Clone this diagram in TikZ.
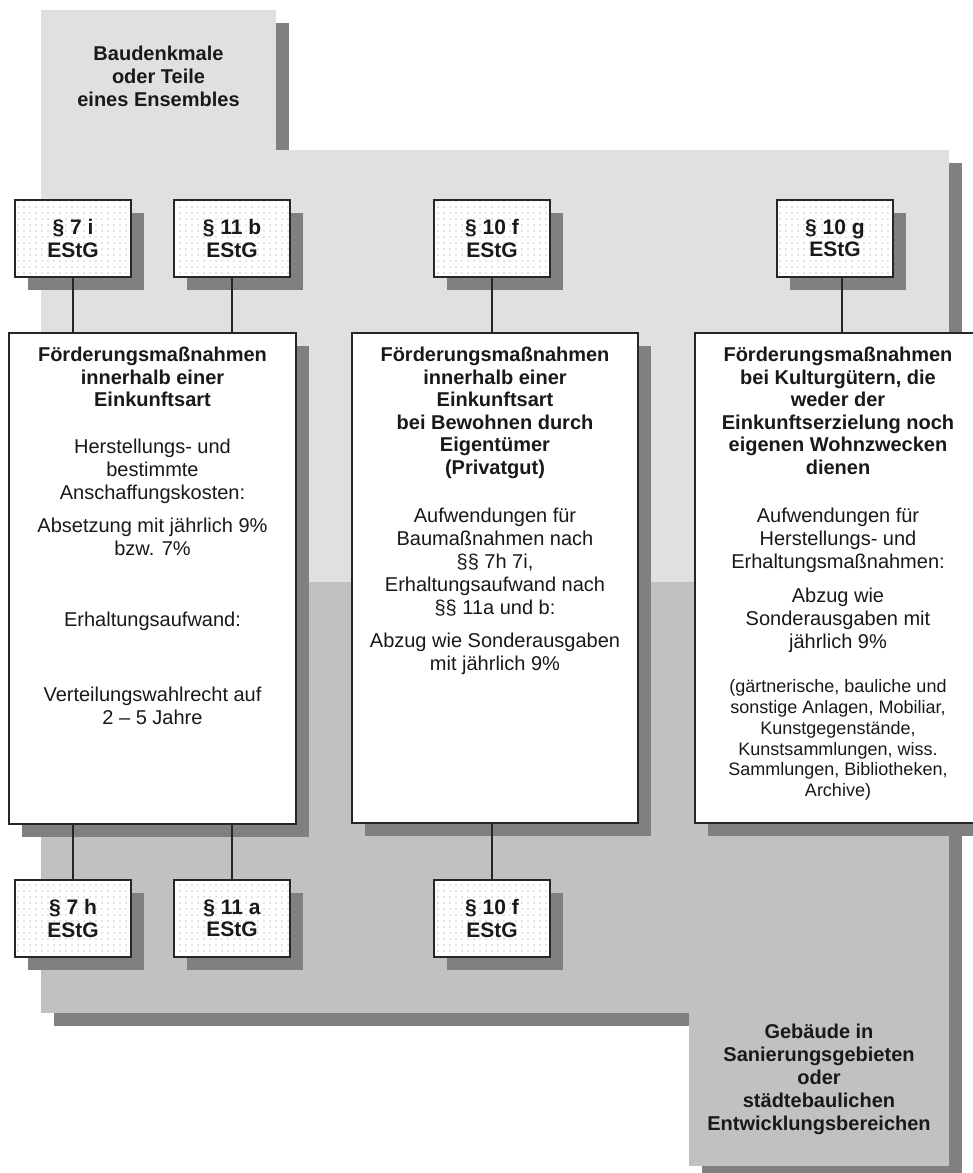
\documentclass[tikz,border=0pt]{standalone}
\usepackage{fontspec}
\setmainfont{Liberation Sans}
\usetikzlibrary{shadows,patterns.meta,calc}
\definecolor{bglight}{gray}{0.88}
\definecolor{bgmid}{gray}{0.755}
\definecolor{sh}{gray}{0.5}
\definecolor{linec}{gray}{0.15}
\definecolor{txt}{gray}{0.1}
\definecolor{dotc}{gray}{0.55}
\newcommand{\resetcenter}{\spaceskip=0pt\xspaceskip=0pt\centering}
\begin{document}
\begin{tikzpicture}[x=1pt,y=-1pt,
  shad/.style={drop shadow={shadow xshift=13pt,shadow yshift=-13pt,opacity=1,fill=sh}},
  pbox/.style={shad, preaction={fill=white}, draw=linec, line width=1.3pt,
    minimum width=116pt, minimum height=77pt, inner sep=0pt, align=center,
    font=\fontsize{21}{22.5}\selectfont\bfseries, text=txt,
    pattern={Dots[distance=6pt,radius=0.6pt]}, pattern color=dotc},
  mbox/.style={shad, draw=linec, line width=1.3pt, fill=white, inner sep=0pt},
  conn/.style={draw=linec, line width=1.3pt},
  btxt/.style={anchor=north, text width=280pt, inner sep=0pt, text=txt,
    font=\fontsize{20}{22.5}\selectfont},
  ctxt/.style={align=center, inner sep=0pt, text=txt, font=\fontsize{20}{23}\selectfont\bfseries},
]
\path[use as bounding box, clip] (0,0) rectangle (973,1173);

% background regions with shadows
\fill[sh] (54,23) rectangle (289,163);
\fill[sh] (54,163) rectangle (962,1026);
\fill[sh] (702,1026) rectangle (962,1179);
\fill[bglight] (41,10) rectangle (276,150);
\fill[bglight] (41,150) rectangle (949,582);
\fill[bgmid] (41,582) rectangle (949,1013);
\fill[bgmid] (689,1013) rectangle (949,1166);

\node[ctxt] (topt) at (158.5,75.9) {Baudenkmale\\oder Teile\\eines Ensembles};
\node[ctxt] (bott) at (819,1079.8) {Gebäude in\\Sanierungsgebieten\\oder\\städtebaulichen\\Entwicklungsbereichen};

% main boxes
\node[mbox, minimum width=287pt, minimum height=491pt] (L) at (152.5,578.5) {};
\node[mbox, minimum width=286pt, minimum height=490pt] (M) at (495,578) {};
\node[mbox, minimum width=286pt, minimum height=490pt] (R) at (838,578) {};

% paragraph boxes
\node[pbox] (a7i) at (73,238.5) {§ 7 i\\EStG};
\node[pbox] (b11) at (232,238.5) {§ 11 b\\EStG};
\node[pbox] (f10) at (492,238.5) {§ 10 f\\EStG};
\node[pbox] (g10) at (835,238.5) {§ 10 g\\EStG};
\node[pbox] (h7) at (73,918.5) {§ 7 h\\EStG};
\node[pbox] (a11) at (232,918.5) {§ 11 a\\EStG};
\node[pbox] (f10b) at (492,918.5) {§ 10 f\\EStG};

% connectors
\draw[conn] (a7i.south) -- (a7i.south |- L.north);
\draw[conn] (b11.south) -- (b11.south |- L.north);
\draw[conn] (f10.south) -- (f10.south |- M.north);
\coordinate (gtop) at ([xshift=7pt]g10.south);
\draw[conn] (gtop) -- (gtop |- R.north);
\draw[conn] (L.south -| h7.north) -- (h7.north);
\draw[conn] (L.south -| a11.north) -- (a11.north);
\draw[conn] (M.south -| f10b.north) -- (f10b.north);

% texts
\node[btxt] (Lt) at (152.5,347.3) {\resetcenter\fontsize{20}{22.5}\selectfont\bfseries
Förderungsmaßnahmen\\innerhalb einer\\Einkunftsart\par
\vspace{24pt}\fontsize{20}{23}\selectfont\mdseries
Herstellungs- und\\bestimmte\\Anschaffungskosten:\par
\vspace{10pt}Absetzung mit jährlich 9\%\\bzw. 7\%\par
\vspace{48pt}Erhaltungsaufwand:\par
\vspace{52pt}Verteilungswahlrecht auf\\2 – 5 Jahre\par};

\node[btxt] (Mt) at (495,347.3) {\resetcenter\fontsize{20}{22.5}\selectfont\bfseries
Förderungsmaßnahmen\\innerhalb einer\\Einkunftsart\\bei Bewohnen durch\\Eigentümer\\(Privatgut)\par
\vspace{25.5pt}\fontsize{20}{23}\selectfont\mdseries
Aufwendungen für\\Baumaßnahmen nach\\§§ 7h 7i,\\Erhaltungsaufwand nach\\§§ 11a und b:\par
\vspace{10pt}Abzug wie Sonderausgaben\\mit jährlich 9\%\par};

\node[btxt] (Rt) at (838,347.3) {\resetcenter\fontsize{20}{22.5}\selectfont\bfseries
Förderungsmaßnahmen\\bei Kulturgütern, die\\weder der\\Einkunftserzielung noch\\eigenen Wohnzwecken\\dienen\par
\vspace{25.5pt}\fontsize{20}{23}\selectfont\mdseries
Aufwendungen für\\Herstellungs- und\\Erhaltungsmaßnahmen:\par
\vspace{11pt}Abzug wie\\Sonderausgaben mit\\jährlich 9\%\par
\vspace{23pt}\fontsize{18}{20.8}\selectfont
(gärtnerische, bauliche und\\sonstige Anlagen, Mobiliar,\\Kunstgegenstände,\\Kunstsammlungen, wiss.\\Sammlungen, Bibliotheken,\\Archive)\par};
\end{tikzpicture}
\end{document}
